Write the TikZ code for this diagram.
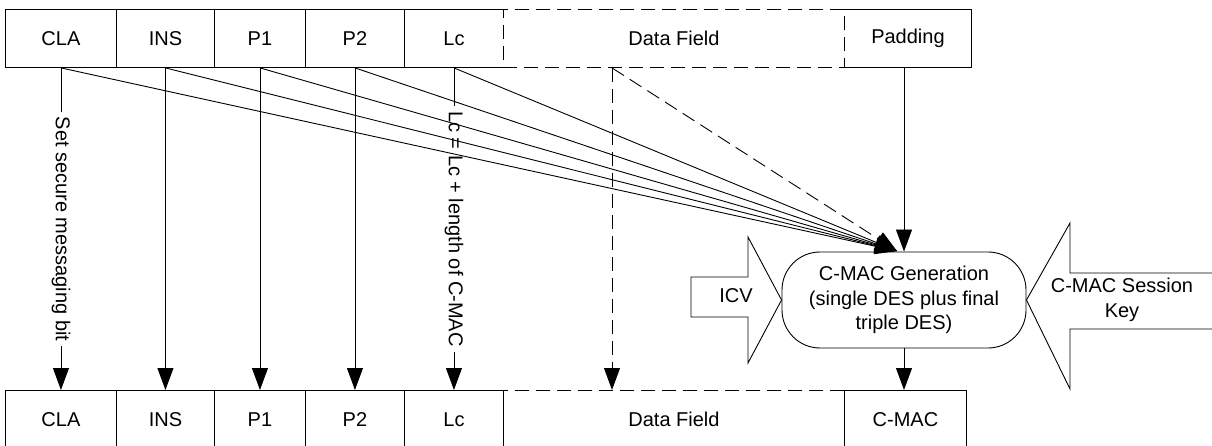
\documentclass[tikz,border=0pt]{standalone}
\usepackage{fontspec}
\setmainfont{Liberation Sans}
\usetikzlibrary{arrows.meta,calc}
\begin{document}
\begin{tikzpicture}[x=1pt,y=-1pt,
  every node/.style={font=\fontsize{20}{24.5}\selectfont, inner sep=0pt},
  ln/.style={line width=0.9pt},
  cell/.style={draw, ln, minimum height=58pt, anchor=north west},
  dsh/.style={dash pattern=on 14pt off 7pt},
  arr/.style={ln, -{Triangle[length=22pt,width=16pt]}},
  darr/.style={arr, dsh},
  genbox/.style={draw, ln, rounded corners=38pt, minimum width=244pt, minimum height=96pt, align=center},
  blk/.style={draw, ln, fill=white},
  lbl/.style={rotate=-90, fill=white, inner xsep=5pt, inner ysep=1pt}]
\useasboundingbox (0,0) rectangle (1212,446);

% top row
\node[cell, minimum width=111pt] (CLAt) at (5,9) {CLA};
\node[cell, minimum width=98pt] (INSt) at (116,9) {INS};
\node[cell, minimum width=91pt] (P1t) at (214,9) {P1};
\node[cell, minimum width=99pt] (P2t) at (305,9) {P2};
\node[cell, draw=none, minimum width=99pt] (Lct) at (404,9) {Lc};
\draw[ln] (Lct.north east) -- (Lct.north west) -- (Lct.south west) -- (Lct.south east);
\node[cell, dsh, minimum width=341pt] (DFt) at (503,9) {Data Field};
\node[cell, draw=none, minimum width=127pt] (PADt) at (844,9) {Padding};
\draw[ln] (PADt.north west) -- (PADt.north east) -- (PADt.south east) -- (PADt.south west);

% bottom row
\node[cell, minimum width=111pt] (CLAb) at (5,390) {CLA};
\node[cell, minimum width=98pt] (INSb) at (116,390) {INS};
\node[cell, minimum width=91pt] (P1b) at (214,390) {P1};
\node[cell, minimum width=99pt] (P2b) at (305,390) {P2};
\node[cell, minimum width=99pt] (Lcb) at (404,390) {Lc};
\node[cell, dsh, minimum width=341pt] (DFb) at (503,390) {Data Field};
\node[cell, minimum width=122pt] (CMACb) at (844,390) {C-MAC};

% generation box
\node[genbox] (gen) at (904,300) {C-MAC Generation\\(single DES plus final\\triple DES)};
\coordinate (fan) at (897,251);
\coordinate (DFsrc) at ($(DFt.south west)+(109,0)$);

% block arrows
\draw[blk] (691,277) -- (748,277) -- (748,237) -- (gen.west) -- (748,363) -- (748,317) -- (691,317) -- cycle;
\node (icv) at (736,296) {ICV};
\draw[blk] (1220,273) -- (1070,273) -- (1070,223) -- (gen.east) -- (1070,389) -- (1070,329) -- (1220,329);
\node[align=center] (key) at (1122,300) {C-MAC Session\\Key};

% vertical connectors
\draw[arr] (CLAt.south) -- node[lbl] (lblcla) {Set secure messaging bit} (CLAt.south |- CLAb.north);
\draw[arr] (INSt.south) -- (INSb.north);
\draw[arr] (P1t.south) -- (P1b.north);
\draw[arr] (P2t.south) -- (P2b.north);
\draw[arr] (Lct.south) -- node[lbl] (lbllc) {Lc = Lc + length of C-MAC} (Lct.south |- Lcb.north);
\draw[darr] (DFsrc) -- (DFsrc |- DFb.north);
\draw[arr] (gen.south) -- (gen.south |- CMACb.north);

% fan of connectors into generation
\foreach \n in {CLAt,INSt,P1t,P2t,Lct} \draw[arr] (\n.south) -- (fan);
\draw[darr] (DFsrc) -- (fan);
\draw[arr] (gen.north |- PADt.south) -- (gen.north);
\end{tikzpicture}
\end{document}
